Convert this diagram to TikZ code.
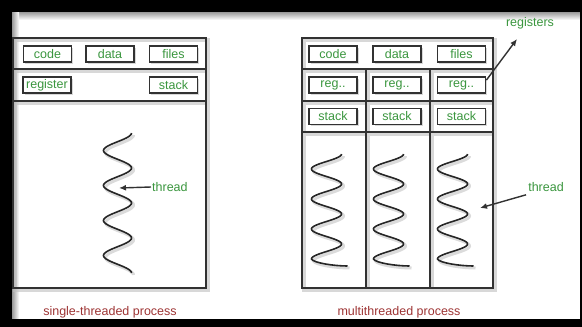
\documentclass[tikz,border=0pt]{standalone}
\usepackage{fontspec}
\setmainfont{Liberation Sans}
\usetikzlibrary{arrows.meta,shadows}
\definecolor{lblgreen}{RGB}{58,150,62}
\definecolor{capred}{RGB}{158,52,52}
\definecolor{edge}{RGB}{50,50,50}

\begin{document}
\begin{tikzpicture}[x=1pt,y=-1pt,
  font=\fontsize{12.5}{14}\selectfont,
  boxline/.style={draw=edge,line width=1.6pt},
  haze/.style={draw=black!25,line width=3.5pt,opacity=0.6},
  part/.style={draw=edge,line width=1.8pt,fill=white,text=lblgreen,
    minimum width=48pt,minimum height=16pt,inner sep=0pt,
    drop shadow={shadow xshift=1.5pt,shadow yshift=-1.5pt,fill=black!30,opacity=0.5}},
  lbl/.style={text=lblgreen,inner sep=1pt},
  captext/.style={text=capred},
  wave/.style={line width=1.6pt,black!85},
  pointer/.style={draw=edge,line width=1.4pt,-{Latex[length=7pt,width=6pt]}}]

\useasboundingbox (0,0) rectangle (582,327);
\fill[white] (0,0) rectangle (582,327);

% soft shade along the inner edge of the frame
\shade[top color=black!40,bottom color=white] (12,12) rectangle (580,20);
\shade[left color=black!40,right color=white] (12,12) rectangle (19,319);

% ---------- single-threaded process ----------
\begin{scope}[shift={(1.8,1.8)}]
  \draw[haze] (13,38) rectangle (206,288) (13,69) -- (206,69) (13,101) -- (206,101);
\end{scope}
\draw[boxline] (13,38) rectangle (206,288) (13,69) -- (206,69) (13,101) -- (206,101);

\node[part] (code1) at (47.5,54) {code};
\node[part] (data1) at (110,54) {data};
\node[part] (files1) at (173.5,54) {files};
\node[part] (reg1) at (47,85) {register};
\node[part] (stack1) at (173.5,85) {stack};

\draw[black!20,line width=3pt,opacity=0.7,shift={(2,2)}]
  plot[domain=0:140,samples=200,smooth] ({117.5+14*cos(\x/35*360)},{133+\x});
\draw[wave] plot[domain=0:140,samples=200,smooth] ({117.5+14*cos(\x/35*360)},{133+\x});

\coordinate (tipL) at (119,188);
\node[lbl,anchor=west] (thrL) at (151,187) {thread};
\draw[pointer] (thrL.west) -- (tipL);

\node[captext] (capL) at (110,312) {single-threaded process};

% ---------- multithreaded process ----------
\begin{scope}[shift={(1.8,1.8)}]
  \draw[haze] (302,38) rectangle (493,288) (302,69) -- (493,69) (302,101) -- (493,101)
    (302,132) -- (493,132) (366,69) -- (366,288) (430,69) -- (430,288);
\end{scope}
\draw[boxline] (302,38) rectangle (493,288) (302,69) -- (493,69) (302,101) -- (493,101)
  (302,132) -- (493,132) (366,69) -- (366,288) (430,69) -- (430,288);

\node[part] (code2) at (333,54) {code};
\node[part] (data2) at (397,54) {data};
\node[part] (files2) at (461.5,54) {files};
\node[part] (rega) at (333,85) {reg..};
\node[part] (regb) at (397,85) {reg..};
\node[part] (regc) at (461.5,85) {reg..};
\node[part] (stacka) at (333,116.5) {stack};
\node[part] (stackb) at (397,116.5) {stack};
\node[part] (stackc) at (461.5,116.5) {stack};

\foreach \c in {326.5,388.5,452.5}{
  \draw[black!20,line width=3pt,opacity=0.7,shift={(2,2)}]
    plot[domain=0:105,samples=150,smooth] ({\c+15*cos(\x/30*360)},{154+\x})
    .. controls (\c-13,263) and (\c+8,266) .. (\c+21,266);
  \draw[wave] plot[domain=0:105,samples=150,smooth] ({\c+15*cos(\x/30*360)},{154+\x})
    .. controls (\c-13,263) and (\c+8,266) .. (\c+21,266);
}

\coordinate (tipR) at (480,208);
\node[lbl] (thrR) at (546,187) {thread};
\draw[pointer] ([xshift=-1pt,yshift=-2pt]thrR.south west) -- (tipR);

\coordinate (tipReg) at (517,39);
\node[lbl] (regs) at (530,23) {registers};
\draw[pointer] ([yshift=-4pt]regc.north east) -- (tipReg);

\node[captext] (capR) at (399,312) {multithreaded process};

% ---------- black frame ----------
\fill[black] (0,0) rectangle (582,12);
\fill[black] (0,0) rectangle (12,327);
\fill[black] (0,319) rectangle (582,327);
\fill[black] (580,0) rectangle (582,327);
\end{tikzpicture}
\end{document}
